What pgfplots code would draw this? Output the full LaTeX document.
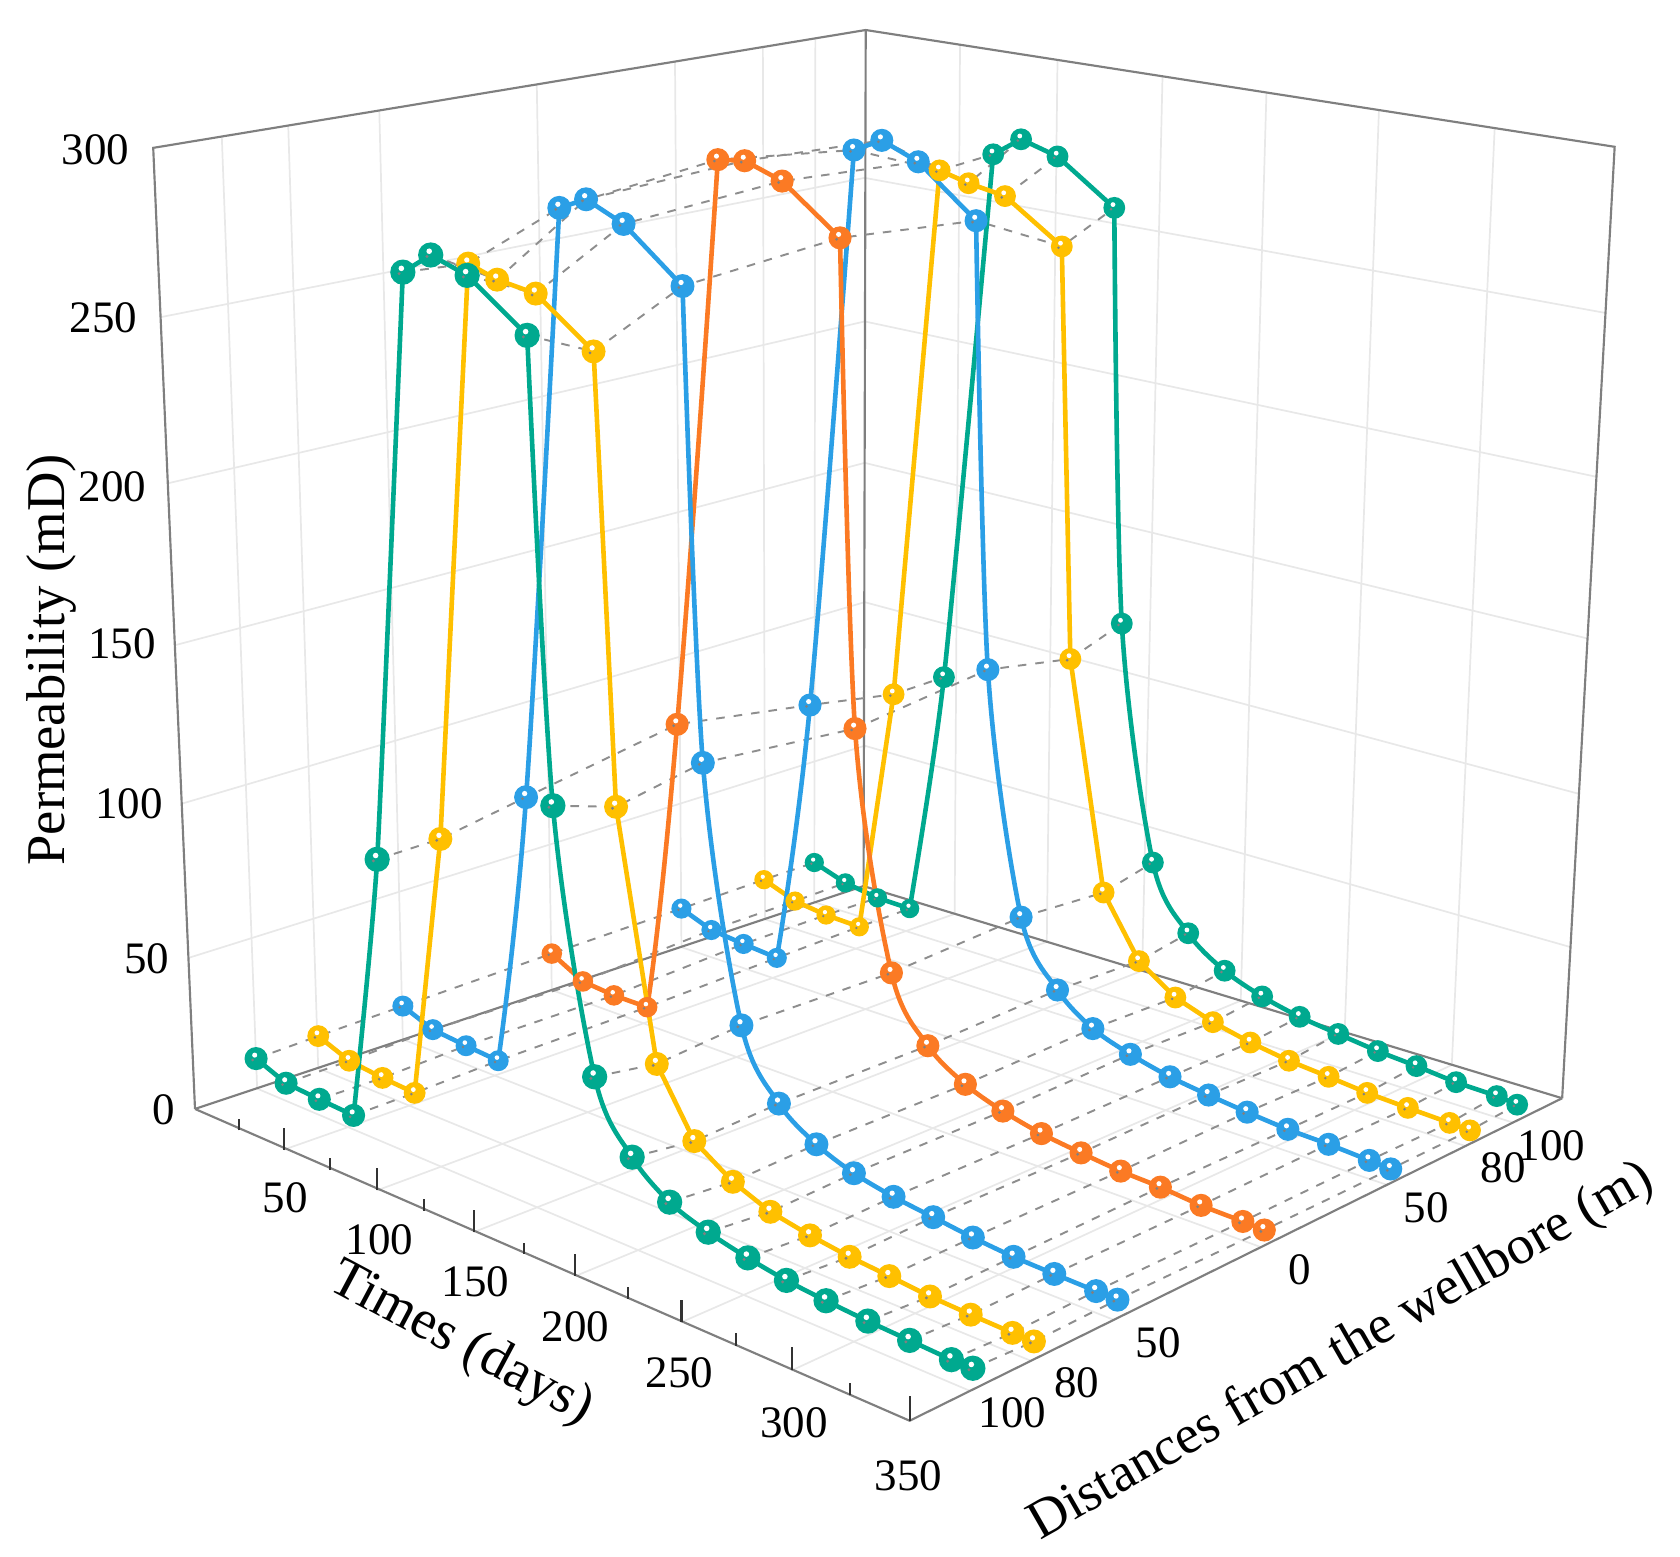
\documentclass[border=0pt]{standalone}
\usepackage{fontspec}
\setmainfont{Liberation Serif}
\usepackage{pgfplots}
\usepackage{pgfplotstable}
\pgfplotsset{compat=1.18}
\definecolor{cg}{HTML}{00A98F}
\definecolor{cy}{HTML}{FFC000}
\definecolor{cb}{HTML}{2B9FE6}
\definecolor{co}{HTML}{FB7A24}
\definecolor{gridc}{HTML}{E8E8E8}
\definecolor{boxc}{HTML}{7F7F7F}
\definecolor{dashc}{HTML}{8E8E8E}
\pgfdeclareplotmark{gb}{%
  \pgfpathcircle{\pgfpointorigin}{\pgfplotmarksize}\pgfusepathqfill
  \begin{pgfscope}%
  \pgfsetfillcolor{white}%
  \pgfpathcircle{\pgfpoint{-0.12\pgfplotmarksize}{0.3\pgfplotmarksize}}{0.22\pgfplotmarksize}\pgfusepathqfill
  \pgfsetfillcolor{gray}%
  \pgfpathcircle{\pgfpoint{-0.3\pgfplotmarksize}{-0.12\pgfplotmarksize}}{0.13\pgfplotmarksize}\pgfusepathqfill
  \end{pgfscope}%
}
\pgfplotstableread{
x y
239 988
267 1011
298 1026
330 1041
352 802
376 254
402 238
436 257
492 313
516 752
555 1005
590 1080
625 1122
661 1150
698 1174
734 1195
771 1214
810 1233
849 1251
888 1269
908 1277
}\sA
\pgfplotstableread{
x y
297 967
326 990
357 1006
387 1020
411 783
437 246
464 261
500 274
554 328
575 753
613 993
648 1065
684 1103
719 1131
756 1153
793 1173
830 1191
868 1210
906 1227
945 1244
965 1252
}\sB
\pgfplotstableread{
x y
376 939
404 961
435 976
465 990
491 744
522 194
547 186
582 209
637 267
656 712
692 957
727 1030
762 1068
797 1095
834 1117
871 1136
908 1155
946 1173
984 1189
1023 1205
1043 1213
}\sC
\pgfplotstableread{
x y
515 890
544 916
573 929
604 940
632 676
670 149
695 150
730 169
784 222
798 680
832 908
866 976
901 1012
936 1037
972 1058
1009 1076
1046 1093
1083 1108
1121 1125
1160 1140
1180 1148
}\sD
\pgfplotstableread{
x y
636 848
664 868
694 881
725 894
756 658
797 140
823 131
857 151
911 206
922 625
953 856
987 924
1020 960
1055 984
1092 1005
1128 1022
1164 1038
1202 1054
1240 1068
1278 1083
1298 1091
}\sE
\pgfplotstableread{
x y
713 821
742 841
771 854
802 865
834 648
877 159
904 171
938 183
991 230
999 615
1030 833
1063 897
1097 931
1132 954
1167 973
1203 990
1240 1005
1276 1020
1314 1034
1353 1048
1372 1055
}\sF
\pgfplotstableread{
x y
760 805
789 824
819 838
849 848
881 632
927 144
953 130
987 146
1040 194
1047 582
1076 805
1109 871
1143 906
1178 930
1213 949
1249 965
1286 981
1322 995
1359 1010
1397 1023
1416 1031
}\sG
\newcommand\gl[1]{\addplot[gridc,line width=0.8pt] coordinates {#1};}
\newcommand\bx[1]{\addplot[boxc,line width=1pt] coordinates {#1};}
\newcommand\tk[1]{\addplot[black!80,line width=1pt] coordinates {#1};}
\newcommand\dl[1]{\addplot[dashc,line width=0.9pt,dash pattern=on 4pt off 4.2pt] coordinates {#1};}
% table, colour, mark size low, mark size rest, rise tension, tail tension
\newcommand\ser[6]{%
  \addplot[#2,line width=2.15pt] table[x=x,y=y,skip coords between index={4}{21}] {#1};
  \addplot[#2,line width=2.15pt,smooth,tension=#5] table[x=x,y=y,skip coords between index={0}{3},skip coords between index={6}{21}] {#1};
  \addplot[#2,line width=2.15pt] table[x=x,y=y,skip coords between index={0}{5},skip coords between index={9}{21}] {#1};
  \addplot[#2,line width=2.15pt,smooth,tension=#6] table[x=x,y=y,skip coords between index={0}{8}] {#1};
  \addplot[only marks,mark=gb,mark size=#3,mark options={fill=#2,draw=none}] table[x=x,y=y,skip coords between index={4}{21}] {#1};
  \addplot[only marks,mark=gb,mark size=#4,mark options={fill=#2,draw=none}] table[x=x,y=y,skip coords between index={0}{4}] {#1};
}
\newcommand\lab[3]{\node[font=\fontsize{21}{25}\selectfont,inner sep=0pt] at (axis cs:#1,#2) {#3};}
\begin{document}
\begin{tikzpicture}
\begin{axis}[scale only axis,width=784pt,height=726.5pt,xmin=0,xmax=1568,ymin=0,ymax=1453,y dir=reverse,hide axis,clip=false]
% left wall grid
\gl{(150,296)(807,166)} \gl{(157,451)(807,300)} \gl{(164,602)(807,432)} \gl{(170,750)(807,562)} \gl{(176,894)(807,696)}
\gl{(207,127)(240,1016)} \gl{(269,117)(297,997)} \gl{(354,103)(376,970)} \gl{(501,79)(515,924)} \gl{(630,58)(636,884)} \gl{(712,44)(714,858)} \gl{(761,36)(760,842)}
% right wall grid
\gl{(807,166)(1498,292)} \gl{(807,300)(1490,445)} \gl{(807,432)(1482,596)} \gl{(807,562)(1474,741)} \gl{(807,696)(1466,884)}
\gl{(896,42)(891,853)} \gl{(987,56)(977,879)} \gl{(1085,71)(1066,906)} \gl{(1182,86)(1158,934)} \gl{(1287,103)(1255,963)} \gl{(1395,120)(1355,994)}
% floor grid
\gl{(265,1073)(891,853)} \gl{(352,1111)(977,879)} \gl{(442,1150)(1066,906)} \gl{(537,1191)(1158,934)} \gl{(636,1234)(1255,963)} \gl{(739,1279)(1355,994)}
\gl{(240,1016)(905,1298)} \gl{(297,997)(962,1270)} \gl{(376,970)(1040,1232)} \gl{(515,924)(1177,1164)} \gl{(636,884)(1295,1106)} \gl{(714,858)(1369,1070)} \gl{(760,842)(1413,1048)}
% box
\bx{(182,1035)(143,138)(808,28)(1507,137)(1458,1025)}
\bx{(808,28)(806,827)}
\bx{(182,1035)(806,827)(1458,1025)}
\bx{(182,1035)(849,1326)(1458,1025)}
% ticks
\tk{(265,1073)(265,1053)} \tk{(352,1111)(352,1090)} \tk{(442,1150)(442,1129)} \tk{(537,1191)(537,1170)} \tk{(636,1234)(636,1213)} \tk{(739,1279)(739,1257)} \tk{(849,1326)(849,1303)}
\tk{(223,1055)(223,1044)} \tk{(308,1092)(308,1081)} \tk{(396,1130)(396,1119)} \tk{(489,1170)(489,1160)} \tk{(586,1212)(586,1201)} \tk{(687,1256)(687,1244)} \tk{(793,1302)(793,1291)}
% dashed connectors
\dl{(239,988)(297,967)(376,939)(515,890)(636,848)(713,821)(760,805)}
\dl{(267,1011)(326,990)(404,961)(544,916)(664,868)(742,841)(789,824)}
\dl{(298,1026)(357,1006)(435,976)(573,929)(694,881)(771,854)(819,838)}
\dl{(330,1041)(387,1020)(465,990)(604,940)(725,894)(802,865)(849,848)}
\dl{(352,802)(411,783)(491,744)(632,676)(756,658)(834,648)(881,632)}
\dl{(376,254)(437,246)(522,194)(670,149)(797,140)(877,159)(927,144)}
\dl{(402,238)(464,261)(547,186)(695,150)(823,131)(904,171)(953,130)}
\dl{(436,257)(500,274)(582,209)(730,169)(857,151)(938,183)(987,146)}
\dl{(492,313)(554,328)(637,267)(784,222)(911,206)(991,230)(1040,194)}
\dl{(516,752)(575,753)(656,712)(798,680)(922,625)(999,615)(1047,582)}
\dl{(555,1005)(613,993)(692,957)(832,908)(953,856)(1030,833)(1076,805)}
\dl{(590,1080)(648,1065)(727,1030)(866,976)(987,924)(1063,897)(1109,871)}
\dl{(625,1122)(684,1103)(762,1068)(901,1012)(1020,960)(1097,931)(1143,906)}
\dl{(661,1150)(719,1131)(797,1095)(936,1037)(1055,984)(1132,954)(1178,930)}
\dl{(698,1174)(756,1153)(834,1117)(972,1058)(1092,1005)(1167,973)(1213,949)}
\dl{(734,1195)(793,1173)(871,1136)(1009,1076)(1128,1022)(1203,990)(1249,965)}
\dl{(771,1214)(830,1191)(908,1155)(1046,1093)(1164,1038)(1240,1005)(1286,981)}
\dl{(810,1233)(868,1210)(946,1173)(1083,1108)(1202,1054)(1276,1020)(1322,995)}
\dl{(849,1251)(906,1227)(984,1189)(1121,1125)(1240,1068)(1314,1034)(1359,1010)}
\dl{(888,1269)(945,1244)(1023,1205)(1160,1140)(1278,1083)(1353,1048)(1397,1023)}
\dl{(908,1277)(965,1252)(1043,1213)(1180,1148)(1298,1091)(1372,1055)(1416,1031)}
% series back to front
\ser{\sG}{cg}{4.5}{5.1}{0.4}{0.5}
\ser{\sF}{cy}{4.5}{5.1}{0}{0}
\ser{\sE}{cb}{4.7}{5.4}{0.6}{0.5}
\ser{\sD}{co}{4.8}{5.4}{0.9}{0.5}
\ser{\sC}{cb}{4.9}{5.6}{0.6}{0.5}
\ser{\sB}{cy}{5.1}{5.6}{0}{0}
\ser{\sA}{cg}{5.4}{5.9}{0.3}{0.5}
% tick labels
\lab{89}{140}{300} \lab{96.5}{297}{250} \lab{105}{454}{200} \lab{114}{601}{150} \lab{120.5}{750}{100} \lab{137}{895}{50} \lab{153}{1036}{0}
\lab{266}{1118}{50} \lab{354}{1157}{100} \lab{444}{1196}{150} \lab{537}{1238}{200} \lab{634}{1281}{250} \lab{741}{1328}{300} \lab{848}{1377}{350}
\lab{945}{1319}{100} \lab{1005}{1291}{80} \lab{1081}{1253}{50} \lab{1213}{1185}{0} \lab{1331}{1127}{50} \lab{1403}{1090}{80} \lab{1448}{1069}{100}
% axis titles
\node[font=\fontsize{25.5}{30}\selectfont,rotate=90,inner sep=0pt] at (axis cs:48,616) {Permeability (mD)};
\node[font=\fontsize{26}{30}\selectfont,rotate=-28,inner sep=0pt] at (axis cs:430,1255) {Times (days)};
\node[font=\fontsize{25.5}{30}\selectfont,rotate=29.8,inner sep=0pt] at (axis cs:1252,1262) {Distances from the wellbore (m)};
\path (axis cs:0,0) (axis cs:1568,1453);
\end{axis}
\end{tikzpicture}
\end{document}
